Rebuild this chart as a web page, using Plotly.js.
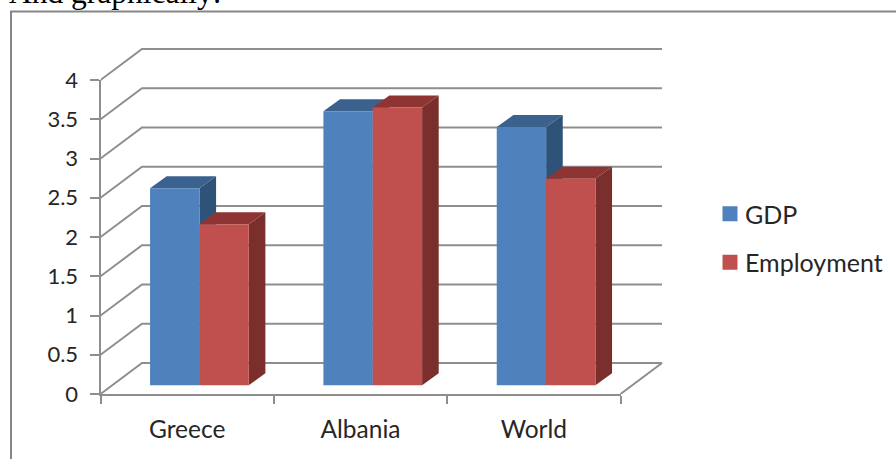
<!DOCTYPE html>
<html>
<head>
<meta charset="utf-8">
<script src="https://cdn.plot.ly/plotly-3.0.1.min.js"></script>
<style>html,body{margin:0;padding:0;background:#fff;overflow:hidden}</style>
</head>
<body>
<div id="chart" style="width:896px;height:459px"></div>
<script>
// Growth figures by region
const categories = ["Greece", "Albania", "World"];
const gdpValues = [2.51, 3.49, 3.29];
const employmentValues = [2.05, 3.54, 2.63];
const valueTicks = [0, 0.5, 1, 1.5, 2, 2.5, 3, 3.5, 4];
const tickLabels = ["0", "0.5", "1", "1.5", "2", "2.5", "3", "3.5", "4"];

// Oblique projection, in axis units: category widths across, values up
const wallDX = 0.2394, wallDY = 0.395;   // front plane to back wall
const barDX = 0.0958, barDY = 0.153;     // depth of one bar
const floorLift = 0.111;                 // bars stand a little behind the front edge
const barWidth = 0.285;
const gdpOffset = -0.214, employmentOffset = 0.0704;

const colors = {
  gdp: {front: "#4F81BD", side: "#2F5279", top: "#3B618F"},
  employment: {front: "#C0504D", side: "#7A2F2D", top: "#8E3533"}
};
const inkColor = "#262626";
const ruleColor = "#8E8E8E";
const ruleWidth = 2;
const fontFamily = "Lato, Carlito, sans-serif";
const valueFont = {family: fontFamily, size: 22, color: inkColor};
const categoryFont = {family: fontFamily, size: 24.5, color: inkColor};
const legendFont = {family: fontFamily, size: 25, color: inkColor};

// Wall rules: each runs from the front axis back, then along the wall
const gridX = [], gridY = [];
valueTicks.forEach(v => {
  gridX.push(0, wallDX, 3 + wallDX, null);
  gridY.push(v, v + wallDY, v + wallDY, null);
});
gridX.push(3, 3 + wallDX);
gridY.push(0, wallDY);

// Side and top faces of one series, as closed polygons
function faces(values, offset) {
  const side = {x: [], y: []}, top = {x: [], y: []};
  values.forEach((v, i) => {
    const l = i + 0.5 + offset, r = l + barWidth;
    const lo = floorLift, hi = floorLift + v;
    side.x.push(r, r + barDX, r + barDX, r, r, null);
    side.y.push(lo, lo + barDY, hi + barDY, hi, lo, null);
    top.x.push(l, l + barDX, r + barDX, r, l, null);
    top.y.push(hi, hi + barDY, hi + barDY, hi, hi, null);
  });
  return {side, top};
}

function faceTrace(poly, color) {
  return {
    type: "scatter", mode: "lines", x: poly.x, y: poly.y,
    fill: "toself", fillcolor: color, line: {width: 0, color: color},
    showlegend: false, hoverinfo: "skip"
  };
}

function barTrace(name, values, offset, color) {
  return {
    type: "bar", name: name, x: categories, y: values, base: floorLift,
    width: barWidth, offset: offset, marker: {color: color},
    xaxis: "x2", yaxis: "y2", showlegend: false
  };
}

function legendTrace(name, color) {
  return {
    type: "scatter", mode: "markers", name: name, legendgroup: name,
    x: [null], y: [null], marker: {symbol: "square", size: 15, color: color}
  };
}

const gdpFaces = faces(gdpValues, gdpOffset);
const employmentFaces = faces(employmentValues, employmentOffset);

const traces = [
  {type: "scatter", mode: "lines", x: gridX, y: gridY,
   line: {color: ruleColor, width: ruleWidth}, showlegend: false, hoverinfo: "skip"},
  faceTrace(gdpFaces.side, colors.gdp.side),
  faceTrace(gdpFaces.top, colors.gdp.top),
  faceTrace(employmentFaces.side, colors.employment.side),
  faceTrace(employmentFaces.top, colors.employment.top),
  legendTrace("GDP", colors.gdp.front),
  legendTrace("Employment", colors.employment.front),
  barTrace("GDP", gdpValues, gdpOffset, colors.gdp.front),
  barTrace("Employment", employmentValues, employmentOffset, colors.employment.front)
];

const W = 896, H = 459;
// Front plane: the two visible axes and the bars
const frontLeft = 100.5, frontRight = 620.5, frontBottom = 394, frontTop = 80;
// Whole box, front plane plus depth: wall rules and bar sides share this scale
const boxRight = 680, boxTop = 30;
const unitX = (frontRight - frontLeft) / 3, unitY = (frontBottom - frontTop) / 4;

const layout = {
  width: W, height: H,
  margin: {l: 0, r: 0, t: 0, b: 0},
  paper_bgcolor: "#fff", plot_bgcolor: "rgba(0,0,0,0)",
  font: valueFont,
  barmode: "overlay",
  xaxis: {
    domain: [frontLeft / W, boxRight / W],
    range: [0, (boxRight - frontLeft) / unitX],
    visible: false, fixedrange: true
  },
  yaxis: {
    domain: [1 - frontBottom / H, 1 - boxTop / H],
    range: [0, (frontBottom - boxTop) / unitY],
    visible: false, fixedrange: true
  },
  xaxis2: {
    domain: [frontLeft / W, frontRight / W], anchor: "y2", type: "category",
    categoryorder: "array", categoryarray: categories, range: [-0.5, 2.5],
    tickson: "boundaries", ticks: "outside", ticklen: 8, tickwidth: ruleWidth, tickcolor: ruleColor,
    showline: true, linecolor: ruleColor, linewidth: ruleWidth, showgrid: false, zeroline: false,
    ticklabelstandoff: 13, tickfont: categoryFont, fixedrange: true
  },
  yaxis2: {
    domain: [1 - frontBottom / H, 1 - frontTop / H], anchor: "x2", range: [0, 4],
    tickvals: valueTicks, ticktext: tickLabels,
    ticks: "outside", ticklen: 9, tickwidth: ruleWidth, tickcolor: ruleColor,
    showline: true, linecolor: ruleColor, linewidth: ruleWidth, showgrid: false, zeroline: false,
    ticklabelstandoff: 7, tickfont: valueFont, fixedrange: true
  },
  legend: {
    x: 705 / W, xanchor: "left", y: 1 - 238 / H, yanchor: "middle",
    bgcolor: "rgba(0,0,0,0)", font: legendFont, tracegroupgap: 13,
    itemclick: false, itemdoubleclick: false
  },
  shapes: [
    {type: "line", xref: "paper", yref: "paper", x0: 11 / W, x1: 11 / W, y0: 0, y1: 1 - 11.5 / H,
     line: {color: "#868686", width: 2}},
    {type: "line", xref: "paper", yref: "paper", x0: 10 / W, x1: 1, y0: 1 - 11.5 / H, y1: 1 - 11.5 / H,
     line: {color: "#868686", width: 2}}
  ],
  annotations: [
    {text: "And graphically:", xref: "paper", yref: "paper", x: 8 / W, xanchor: "left",
     y: 1 - 11 / H, yanchor: "bottom", showarrow: false, borderpad: 0,
     font: {family: "Liberation Serif, serif", size: 31.5, color: "#000"}}
  ]
};

Plotly.newPlot("chart", traces, layout, {displayModeBar: false, responsive: false}).then(() => {
  // Legend swatches sit closer to their labels than the default item layout allows
  document.querySelectorAll("#chart .legendpoints").forEach(g => {
    g.setAttribute("transform", "translate(5,0)");
  });
});
</script>
</body>
</html>
